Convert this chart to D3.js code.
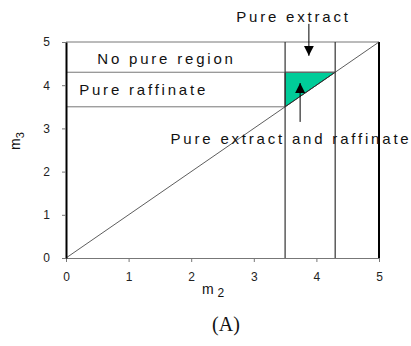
<!DOCTYPE html>
<html>
<head>
<meta charset="utf-8">
<script src="https://cdn.jsdelivr.net/npm/d3@7"></script>
<style>
  body { margin: 0; background: #fff; }
  text { font-family: Arial, "Liberation Sans", sans-serif; }
</style>
</head>
<body>
<div id="chart-area"></div>
<script>
const MARGIN = { LEFT: 66, RIGHT: 32, TOP: 42, BOTTOM: 88 }
const WIDTH = 411 - MARGIN.LEFT - MARGIN.RIGHT
const HEIGHT = 346 - MARGIN.TOP - MARGIN.BOTTOM

// data
const xTicks = [0, 1, 2, 3, 4, 5]
const yTicks = [0, 1, 2, 3, 4, 5]
const diagonal = [[0, 0], [5, 5]]
const region = [[3.5, 3.5], [3.5, 4.3], [4.3, 4.3]]
const hLines = [{ y: 5, x0: 0, x1: 5 }, { y: 4.3, x0: 0, x1: 4.3 }, { y: 3.5, x0: 0, x1: 3.5 }]
const vLines = [3.5, 4.3]
const labels = [
  { text: "Pure extract", x: 2.72, y: 5.46 },
  { text: "No pure region", x: 0.5, y: 4.5 },
  { text: "Pure raffinate", x: 0.21, y: 3.78 },
  { text: "Pure extract and raffinate", x: 1.67, y: 2.65 }
]
const arrows = [
  { x: 3.88, y0: 5.42, y1: 4.68 },
  { x: 3.74, y0: 3.15, y1: 4.05 }
]

const svg = d3.select("#chart-area").append("svg")
  .attr("width", 411)
  .attr("height", 346)

const g = svg.append("g")
  .attr("transform", `translate(${MARGIN.LEFT}, ${MARGIN.TOP})`)

const x = d3.scaleLinear().domain([0, 5]).range([0, WIDTH])
const y = d3.scaleLinear().domain([0, 5]).range([HEIGHT, 0])

// region
g.append("path")
  .datum(region)
  .attr("d", d3.line().x(d => x(d[0])).y(d => y(d[1])).curve(d3.curveLinearClosed))
  .attr("fill", "#00cc99")
  .attr("stroke", "#222")
  .attr("stroke-width", 1)

// horizontal boundaries
g.selectAll(".hline").data(hLines).enter().append("line")
  .attr("x1", d => x(d.x0)).attr("x2", d => x(d.x1))
  .attr("y1", d => y(d.y)).attr("y2", d => y(d.y))
  .attr("stroke", "#777")
  .attr("stroke-width", 1)

// vertical boundaries
g.selectAll(".vline").data(vLines).enter().append("line")
  .attr("x1", d => x(d)).attr("x2", d => x(d))
  .attr("y1", y(0)).attr("y2", y(5))
  .attr("stroke", "#333")
  .attr("stroke-width", 1.2)

// right border
g.append("line")
  .attr("x1", x(5)).attr("x2", x(5))
  .attr("y1", y(0)).attr("y2", y(5))
  .attr("stroke", "#000")
  .attr("stroke-width", 2)

// diagonal
g.append("path")
  .datum(diagonal)
  .attr("d", d3.line().x(d => x(d[0])).y(d => y(d[1])))
  .attr("stroke", "#333")
  .attr("stroke-width", 0.8)
  .attr("fill", "none")

// axes
const xAxis = g.append("g")
  .attr("transform", `translate(0, ${HEIGHT})`)
  .call(d3.axisBottom(x).tickValues(xTicks).tickFormat(d3.format("d"))
    .tickSize(4).tickPadding(10).tickSizeOuter(0))
xAxis.select(".domain").attr("stroke", "#777")
xAxis.selectAll(".tick line").attr("stroke", "#777")
xAxis.selectAll("text").attr("font-size", 12).attr("fill", "#222")

const yAxis = g.append("g")
  .call(d3.axisLeft(y).tickValues(yTicks).tickFormat(d3.format("d"))
    .tickSize(4).tickPadding(12).tickSizeOuter(0))
yAxis.select(".domain").attr("stroke", "#000").attr("stroke-width", 2)
yAxis.selectAll(".tick line").attr("stroke", "#777")
yAxis.selectAll("text").attr("font-size", 12).attr("fill", "#222")

// arrows
svg.append("defs").append("marker")
  .attr("id", "head")
  .attr("viewBox", "0 0 10 10")
  .attr("refX", 10).attr("refY", 5)
  .attr("markerWidth", 10).attr("markerHeight", 10)
  .attr("markerUnits", "userSpaceOnUse")
  .attr("orient", "auto")
  .append("path").attr("d", "M0,0 L10,5 L0,10 Z").attr("fill", "#000")

g.selectAll(".arrow").data(arrows).enter().append("line")
  .attr("x1", d => x(d.x)).attr("x2", d => x(d.x))
  .attr("y1", d => y(d.y0)).attr("y2", d => y(d.y1))
  .attr("stroke", "#000")
  .attr("stroke-width", 1)
  .attr("marker-end", "url(#head)")

// labels
g.selectAll(".lbl").data(labels).enter().append("text")
  .attr("x", d => x(d.x)).attr("y", d => y(d.y))
  .attr("font-size", 15)
  .attr("letter-spacing", 2.8)
  .attr("fill", "#111")
  .text(d => d.text)

// axis titles
const yt = svg.append("text")
  .attr("transform", "translate(20, 141) rotate(-90)")
  .attr("text-anchor", "middle")
  .attr("font-size", 14)
  .attr("fill", "#111")
yt.append("tspan").text("m")
yt.append("tspan").attr("font-size", 11).attr("dy", 4).text("3")

svg.append("text")
  .attr("x", 213).attr("y", 294)
  .attr("text-anchor", "middle")
  .attr("font-size", 14)
  .attr("fill", "#111")
  .text("m ")
  .append("tspan").attr("font-size", 12).attr("dy", 3).text("2")

svg.append("text")
  .attr("x", 226).attr("y", 331)
  .attr("text-anchor", "middle")
  .attr("font-size", 20)
  .attr("fill", "#111")
  .style("font-family", "'Liberation Serif', 'DejaVu Serif', serif")
  .text("(A)")
</script>
</body>
</html>
